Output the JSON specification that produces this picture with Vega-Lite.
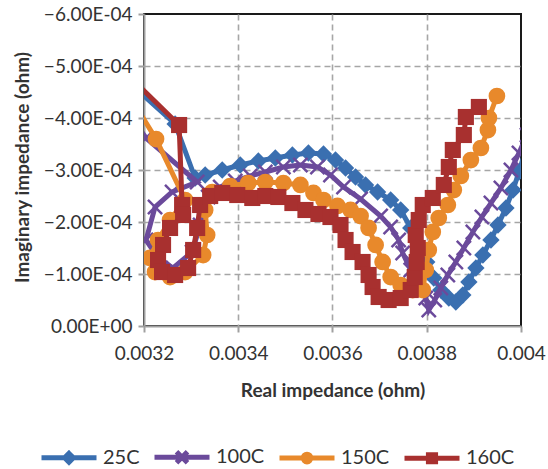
{
  "$schema": "https://vega.github.io/schema/vega-lite/v6.json",
  "width": 377,
  "height": 312,
  "autosize": {"type": "none"},
  "padding": {"left": 144, "top": 14, "right": 27, "bottom": 143},
  "background": "white",
  "config": {
    "font": "Lato",
    "view": {"stroke": "#1a1a1a", "strokeWidth": 2},
    "axis": {
      "domainColor": "#a0a0a0", "domainWidth": 2,
      "tickColor": "#a0a0a0", "tickWidth": 2, "tickSize": 6,
      "gridDash": [6, 4], "gridWidth": 1.6,
      "labelFont": "Lato", "labelFontSize": 19, "labelColor": "#333333",
      "titleFont": "Lato", "titleFontSize": 19, "titleFontWeight": "bold", "titleColor": "#333333",
      "labelOverlap": false
    },
    "legend": {"labelFont": "Lato", "labelFontSize": 20, "labelColor": "#333333"}
  },
  "data": {"values": [
    {"s":"25C","i":0,"re":0.003170,"im":-0.0004673},
    {"s":"25C","i":1,"re":0.003266,"im":-0.0003885},
    {"s":"25C","i":2,"re":0.0033085,"im":-0.0002846},
    {"s":"25C","i":3,"re":0.0033298,"im":-0.0002904},
    {"s":"25C","i":4,"re":0.003366,"im":-0.0003000},
    {"s":"25C","i":5,"re":0.0034043,"im":-0.0003096},
    {"s":"25C","i":6,"re":0.0034426,"im":-0.0003173},
    {"s":"25C","i":7,"re":0.0034787,"im":-0.0003231},
    {"s":"25C","i":8,"re":0.0035149,"im":-0.0003288},
    {"s":"25C","i":9,"re":0.0035489,"im":-0.0003327},
    {"s":"25C","i":10,"re":0.0035809,"im":-0.0003308},
    {"s":"25C","i":11,"re":0.0036064,"im":-0.0003192},
    {"s":"25C","i":12,"re":0.0036277,"im":-0.0003038},
    {"s":"25C","i":13,"re":0.0036489,"im":-0.0002865},
    {"s":"25C","i":14,"re":0.0036702,"im":-0.0002712},
    {"s":"25C","i":15,"re":0.0036957,"im":-0.0002577},
    {"s":"25C","i":16,"re":0.0037234,"im":-0.0002423},
    {"s":"25C","i":17,"re":0.0037447,"im":-0.0002231},
    {"s":"25C","i":18,"re":0.003766,"im":-0.0001885},
    {"s":"25C","i":19,"re":0.003783,"im":-0.0001558},
    {"s":"25C","i":20,"re":0.0038,"im":-0.0001231},
    {"s":"25C","i":21,"re":0.0038149,"im":-0.0000923},
    {"s":"25C","i":22,"re":0.0038298,"im":-0.0000692},
    {"s":"25C","i":23,"re":0.0038468,"im":-0.0000538},
    {"s":"25C","i":24,"re":0.0038617,"im":-0.0000462},
    {"s":"25C","i":25,"re":0.0038766,"im":-0.0000596},
    {"s":"25C","i":26,"re":0.0038894,"im":-0.0000846},
    {"s":"25C","i":27,"re":0.0039043,"im":-0.0001115},
    {"s":"25C","i":28,"re":0.0039191,"im":-0.0001365},
    {"s":"25C","i":29,"re":0.0039362,"im":-0.0001654},
    {"s":"25C","i":30,"re":0.0039511,"im":-0.0001942},
    {"s":"25C","i":31,"re":0.0039681,"im":-0.0002269},
    {"s":"25C","i":32,"re":0.003983,"im":-0.0002615},
    {"s":"25C","i":33,"re":0.0039957,"im":-0.0002962},
    {"s":"25C","i":34,"re":0.0040085,"im":-0.0003346},
    {"s":"100C","i":0,"re":0.003170,"im":-0.0004058},
    {"s":"100C","i":1,"re":0.0032043,"im":-0.0003615},
    {"s":"100C","i":2,"re":0.0033128,"im":-0.0002769},
    {"s":"100C","i":3,"re":0.0032596,"im":-0.0002577},
    {"s":"100C","i":4,"re":0.0032234,"im":-0.0002288},
    {"s":"100C","i":5,"re":0.0032043,"im":-0.0001654},
    {"s":"100C","i":6,"re":0.0032298,"im":-0.0001308},
    {"s":"100C","i":7,"re":0.0032617,"im":-0.0001115},
    {"s":"100C","i":8,"re":0.0033021,"im":-0.0001423},
    {"s":"100C","i":9,"re":0.0033191,"im":-0.0001942},
    {"s":"100C","i":10,"re":0.0033362,"im":-0.0002481},
    {"s":"100C","i":11,"re":0.0033617,"im":-0.0002673},
    {"s":"100C","i":12,"re":0.0033936,"im":-0.0002788},
    {"s":"100C","i":13,"re":0.0034255,"im":-0.0002885},
    {"s":"100C","i":14,"re":0.0034574,"im":-0.0002962},
    {"s":"100C","i":15,"re":0.0034957,"im":-0.0003058},
    {"s":"100C","i":16,"re":0.0035319,"im":-0.0003096},
    {"s":"100C","i":17,"re":0.0035681,"im":-0.0003058},
    {"s":"100C","i":18,"re":0.0035957,"im":-0.0002904},
    {"s":"100C","i":19,"re":0.0036234,"im":-0.0002673},
    {"s":"100C","i":20,"re":0.0036596,"im":-0.0002442},
    {"s":"100C","i":21,"re":0.0037021,"im":-0.0002115},
    {"s":"100C","i":22,"re":0.0037234,"im":-0.0001904},
    {"s":"100C","i":23,"re":0.0037404,"im":-0.0001654},
    {"s":"100C","i":24,"re":0.0037489,"im":-0.0001404},
    {"s":"100C","i":25,"re":0.003766,"im":-0.0001077},
    {"s":"100C","i":26,"re":0.003783,"im":-0.0000788},
    {"s":"100C","i":27,"re":0.0037979,"im":-0.0000538},
    {"s":"100C","i":28,"re":0.0038043,"im":-0.0000308},
    {"s":"100C","i":29,"re":0.003817,"im":-0.00005},
    {"s":"100C","i":30,"re":0.0038298,"im":-0.0000731},
    {"s":"100C","i":31,"re":0.0038447,"im":-0.0000981},
    {"s":"100C","i":32,"re":0.0038617,"im":-0.0001231},
    {"s":"100C","i":33,"re":0.0038787,"im":-0.00015},
    {"s":"100C","i":34,"re":0.0038979,"im":-0.0001808},
    {"s":"100C","i":35,"re":0.003917,"im":-0.0002096},
    {"s":"100C","i":36,"re":0.0039362,"im":-0.0002365},
    {"s":"100C","i":37,"re":0.0039574,"im":-0.0002654},
    {"s":"100C","i":38,"re":0.0039787,"im":-0.0003},
    {"s":"100C","i":39,"re":0.0039957,"im":-0.0003327},
    {"s":"100C","i":40,"re":0.0040128,"im":-0.0003673},
    {"s":"150C","i":0,"re":0.0031745,"im":-0.0004346},
    {"s":"150C","i":1,"re":0.0032255,"im":-0.0003596},
    {"s":"150C","i":2,"re":0.0032872,"im":-0.0002423},
    {"s":"150C","i":3,"re":0.0032553,"im":-0.0002038},
    {"s":"150C","i":4,"re":0.0032298,"im":-0.0001654},
    {"s":"150C","i":5,"re":0.0032128,"im":-0.0001308},
    {"s":"150C","i":6,"re":0.0032234,"im":-0.0001038},
    {"s":"150C","i":7,"re":0.0032553,"im":-0.0000942},
    {"s":"150C","i":8,"re":0.0032872,"im":-0.0001038},
    {"s":"150C","i":9,"re":0.0033255,"im":-0.0001365},
    {"s":"150C","i":10,"re":0.003334,"im":-0.000175},
    {"s":"150C","i":11,"re":0.0033298,"im":-0.0002231},
    {"s":"150C","i":12,"re":0.0033447,"im":-0.0002577},
    {"s":"150C","i":13,"re":0.003383,"im":-0.0002692},
    {"s":"150C","i":14,"re":0.0034213,"im":-0.000275},
    {"s":"150C","i":15,"re":0.0034574,"im":-0.0002769},
    {"s":"150C","i":16,"re":0.0034957,"im":-0.000275},
    {"s":"150C","i":17,"re":0.0035319,"im":-0.0002712},
    {"s":"150C","i":18,"re":0.0035596,"im":-0.0002558},
    {"s":"150C","i":19,"re":0.0035809,"im":-0.0002423},
    {"s":"150C","i":20,"re":0.0036106,"im":-0.0002308},
    {"s":"150C","i":21,"re":0.0036383,"im":-0.0002231},
    {"s":"150C","i":22,"re":0.0036596,"im":-0.0002115},
    {"s":"150C","i":23,"re":0.0036766,"im":-0.0001885},
    {"s":"150C","i":24,"re":0.0036915,"im":-0.0001558},
    {"s":"150C","i":25,"re":0.0037064,"im":-0.0001231},
    {"s":"150C","i":26,"re":0.0037234,"im":-0.0000942},
    {"s":"150C","i":27,"re":0.0037447,"im":-0.0000788},
    {"s":"150C","i":28,"re":0.0037702,"im":-0.0000692},
    {"s":"150C","i":29,"re":0.0037915,"im":-0.0000692},
    {"s":"150C","i":30,"re":0.0037979,"im":-0.0001077},
    {"s":"150C","i":31,"re":0.0038043,"im":-0.0001462},
    {"s":"150C","i":32,"re":0.0038128,"im":-0.0001808},
    {"s":"150C","i":33,"re":0.0038255,"im":-0.0002077},
    {"s":"150C","i":34,"re":0.0038447,"im":-0.0002327},
    {"s":"150C","i":35,"re":0.0038574,"im":-0.0002615},
    {"s":"150C","i":36,"re":0.0038723,"im":-0.0002885},
    {"s":"150C","i":37,"re":0.0038936,"im":-0.0003192},
    {"s":"150C","i":38,"re":0.0039149,"im":-0.0003423},
    {"s":"150C","i":39,"re":0.0039298,"im":-0.0003769},
    {"s":"150C","i":40,"re":0.0039319,"im":-0.0004},
    {"s":"150C","i":41,"re":0.0039489,"im":-0.0004423},
    {"s":"160C","i":0,"re":0.003170,"im":-0.0004788},
    {"s":"160C","i":1,"re":0.0032745,"im":-0.0003865},
    {"s":"160C","i":2,"re":0.0032809,"im":-0.0002327},
    {"s":"160C","i":3,"re":0.003283,"im":-0.0002135},
    {"s":"160C","i":4,"re":0.0032553,"im":-0.0001885},
    {"s":"160C","i":5,"re":0.0032404,"im":-0.0001558},
    {"s":"160C","i":6,"re":0.0032298,"im":-0.0001269},
    {"s":"160C","i":7,"re":0.0032383,"im":-0.0001038},
    {"s":"160C","i":8,"re":0.003266,"im":-0.0000981},
    {"s":"160C","i":9,"re":0.0032936,"im":-0.0001115},
    {"s":"160C","i":10,"re":0.0033043,"im":-0.0001462},
    {"s":"160C","i":11,"re":0.0033128,"im":-0.0001885},
    {"s":"160C","i":12,"re":0.0033191,"im":-0.0002327},
    {"s":"160C","i":13,"re":0.0033404,"im":-0.00025},
    {"s":"160C","i":14,"re":0.003366,"im":-0.0002558},
    {"s":"160C","i":15,"re":0.0033979,"im":-0.0002519},
    {"s":"160C","i":16,"re":0.0034298,"im":-0.0002462},
    {"s":"160C","i":17,"re":0.0034574,"im":-0.00025},
    {"s":"160C","i":18,"re":0.0034851,"im":-0.0002481},
    {"s":"160C","i":19,"re":0.0035149,"im":-0.0002365},
    {"s":"160C","i":20,"re":0.0035426,"im":-0.0002231},
    {"s":"160C","i":21,"re":0.0035702,"im":-0.0002154},
    {"s":"160C","i":22,"re":0.0035957,"im":-0.0002096},
    {"s":"160C","i":23,"re":0.003617,"im":-0.0001942},
    {"s":"160C","i":24,"re":0.0036277,"im":-0.0001654},
    {"s":"160C","i":25,"re":0.0036426,"im":-0.0001423},
    {"s":"160C","i":26,"re":0.0036638,"im":-0.0001231},
    {"s":"160C","i":27,"re":0.0036766,"im":-0.0000981},
    {"s":"160C","i":28,"re":0.0036851,"im":-0.000075},
    {"s":"160C","i":29,"re":0.0036979,"im":-0.0000558},
    {"s":"160C","i":30,"re":0.0037191,"im":-0.00005},
    {"s":"160C","i":31,"re":0.0037447,"im":-0.0000538},
    {"s":"160C","i":32,"re":0.003766,"im":-0.0000692},
    {"s":"160C","i":33,"re":0.0037745,"im":-0.0000942},
    {"s":"160C","i":34,"re":0.0037787,"im":-0.0001231},
    {"s":"160C","i":35,"re":0.0037809,"im":-0.00015},
    {"s":"160C","i":36,"re":0.0037766,"im":-0.000175},
    {"s":"160C","i":37,"re":0.003783,"im":-0.0002038},
    {"s":"160C","i":38,"re":0.0037915,"im":-0.0002327},
    {"s":"160C","i":39,"re":0.0038128,"im":-0.0002462},
    {"s":"160C","i":40,"re":0.0038362,"im":-0.0002712},
    {"s":"160C","i":41,"re":0.0038468,"im":-0.0003058},
    {"s":"160C","i":42,"re":0.0038553,"im":-0.0003385},
    {"s":"160C","i":43,"re":0.0038787,"im":-0.0003673},
    {"s":"160C","i":44,"re":0.003883,"im":-0.0004019},
    {"s":"160C","i":45,"re":0.0039106,"im":-0.0004212}
  ]},
  "encoding": {
    "x": {
      "field": "re", "type": "quantitative",
      "scale": {"domain": [0.0032, 0.004], "nice": false, "zero": false},
      "axis": {
        "title": "Real impedance (ohm)",
        "values": [0.0032, 0.0034, 0.0036, 0.0038, 0.004],
        "labelExpr": "format(datum.value, '~g')",
        "labelFlush": false,
        "labelPadding": 12,
        "grid": true,
        "gridColor": {"condition": {"test": "datum.value <= 0.00321 || datum.value >= 0.00399", "value": "transparent"}, "value": "#a6a6a6"},
        "titleY": 64, "titleBaseline": "middle"
      }
    },
    "y": {
      "field": "im", "type": "quantitative",
      "scale": {"domain": [0, -0.0006], "nice": false, "zero": false},
      "axis": {
        "title": "Imaginary impedance (ohm)",
        "values": [0, -0.0001, -0.0002, -0.0003, -0.0004, -0.0005, -0.0006],
        "labelExpr": "datum.value === 0 ? '0.00E+00' : format(datum.value * 10000, '.2f') + 'E-04'",
        "labelPadding": 6,
        "grid": true,
        "gridColor": {"condition": {"test": "datum.value === 0 || datum.value <= -0.00059", "value": "transparent"}, "value": "#a6a6a6"},
        "titleX": -122, "titleY": 153, "titleBaseline": "middle"
      }
    }
  },
  "layer": [
    {"transform": [{"filter": "datum.s === '25C'"}], "mark": {"type": "line", "clip": true, "color": "#3A6FB0", "strokeWidth": 5}, "encoding": {"order": {"field": "i", "type": "quantitative"}}},
    {"transform": [{"filter": "datum.s === '25C'"}], "mark": {"type": "point", "clip": true, "shape": "diamond", "filled": true, "color": "#3A6FB0", "size": 300, "opacity": 1}},
    {"transform": [{"filter": "datum.s === '100C'"}], "mark": {"type": "line", "clip": true, "color": "#6B4A9B", "strokeWidth": 5}, "encoding": {"order": {"field": "i", "type": "quantitative"}}},
    {"transform": [{"filter": "datum.s === '100C'"}], "mark": {"type": "point", "clip": true, "shape": "M-1,-1L1,1M1,-1L-1,1", "filled": false, "color": "#6B4A9B", "strokeWidth": 2.5, "size": 200, "opacity": 1}},
    {"transform": [{"filter": "datum.s === '150C'"}], "mark": {"type": "line", "clip": true, "color": "#E8892B", "strokeWidth": 5}, "encoding": {"order": {"field": "i", "type": "quantitative"}}},
    {"transform": [{"filter": "datum.s === '150C'"}], "mark": {"type": "point", "clip": true, "shape": "circle", "filled": true, "color": "#E8892B", "size": 280, "opacity": 1}},
    {"transform": [{"filter": "datum.s === '160C'"}], "mark": {"type": "line", "clip": true, "color": "#A8302F", "strokeWidth": 5}, "encoding": {"order": {"field": "i", "type": "quantitative"}}},
    {"transform": [{"filter": "datum.s === '160C'"}], "mark": {"type": "point", "clip": true, "shape": "square", "filled": true, "color": "#A8302F", "size": 260, "opacity": 1}},
    {
      "mark": {"type": "point", "clip": true, "filled": false, "opacity": 0, "strokeWidth": 5, "size": 3025},
      "encoding": {
        "color": {
          "field": "s", "type": "nominal",
          "scale": {"domain": ["25C", "100C", "150C", "160C"], "range": ["#3A6FB0", "#6B4A9B", "#E8892B", "#A8302F"]},
          "legend": {
            "title": null, "orient": "none", "direction": "horizontal",
            "legendX": -105, "legendY": 413, "padding": 0,
            "columnPadding": 4, "labelOffset": 4,
            "symbolOpacity": 1, "symbolStrokeWidth": 5, "symbolSize": 3025
          }
        },
        "shape": {
          "field": "s", "type": "nominal",
          "scale": {"domain": ["25C", "100C", "150C", "160C"], "range": [
            "M-1,0H1M0,-0.16L0.16,0L0,0.16L-0.16,0Z",
            "M-1,0H1M-0.2,-0.2L0.2,0.2M0.2,-0.2L-0.2,0.2",
            "M-1,0H1M0.14,0A0.14,0.14,0,1,1,-0.14,0A0.14,0.14,0,1,1,0.14,0Z",
            "M-1,0H1M-0.13,-0.13H0.13V0.13H-0.13Z"
          ]},
          "legend": {
            "title": null, "orient": "none", "direction": "horizontal",
            "legendX": -105, "legendY": 413, "padding": 0,
            "columnPadding": 4, "labelOffset": 4,
            "symbolOpacity": 1, "symbolStrokeWidth": 5, "symbolSize": 3025
          }
        }
      }
    }
  ]
}
